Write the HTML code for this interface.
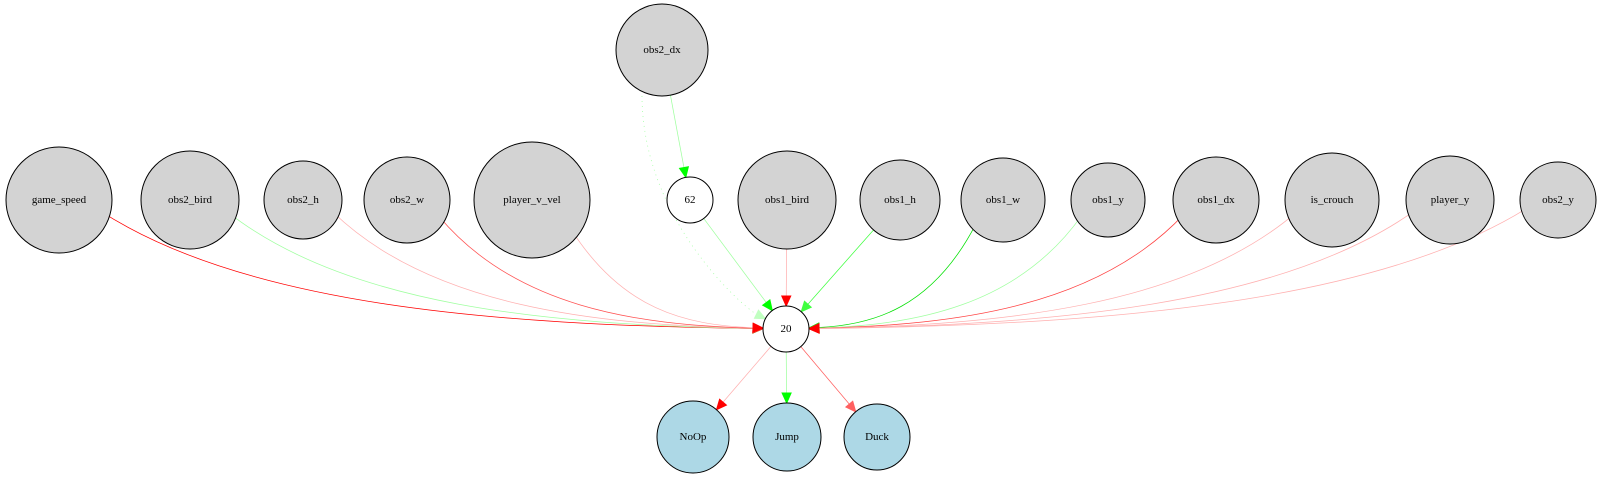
<!DOCTYPE html>
<html><head><meta charset="utf-8"><style>
html,body{margin:0;padding:0;background:#fff;}
svg{display:block;}
text{font-family:"Liberation Serif",serif;font-size:11px;text-anchor:middle;dominant-baseline:central;}
</style></head><body>
<svg id="s" width="1604" height="479" viewBox="0 0 1604 479" xmlns="http://www.w3.org/2000/svg">
<g id="edges"></g><g id="nodes"></g>
</svg>
<script>
const N={
obs2_dx:[662,50,46,'#d3d3d3'],game_speed:[59,200,53,'#d3d3d3'],obs2_bird:[190,200,49,'#d3d3d3'],
obs2_h:[303,200,39,'#d3d3d3'],obs2_w:[407,200,43,'#d3d3d3'],player_v_vel:[532,200,58,'#d3d3d3'],
'62':[690,200,23,'#fff'],obs1_bird:[787,200,49,'#d3d3d3'],obs1_h:[900,200,40,'#d3d3d3'],
obs1_w:[1003,200,42,'#d3d3d3'],obs1_y:[1108,200,37,'#d3d3d3'],obs1_dx:[1216,200,43,'#d3d3d3'],
is_crouch:[1332,200,47,'#d3d3d3'],player_y:[1450,200,44,'#d3d3d3'],obs2_y:[1558,200,38,'#d3d3d3'],
'20':[786,329,23,'#fff'],NoOp:[693,437,36,'#add8e6'],Jump:[787,437,34,'#add8e6'],Duck:[877,437,33,'#add8e6']};
const LR='#ffb0b0',R='#ff0000',LG='#a0ffa0',G='#00ee00';
const E=[['obs2_dx','62',LG,0],['obs2_dx','20',LG,1],['game_speed','20',R,0],['obs2_bird','20',LG,0],
['obs2_h','20',LR,0],['obs2_w','20','#ff5050',0],['player_v_vel','20',LR,0],['62','20',LG,0],
['obs1_bird','20',LR,0],['obs1_h','20','#40ff40',0],['obs1_w','20','#00e000',0],['obs1_y','20',LG,0],
['obs1_dx','20','#ff4040',0],['is_crouch','20',LR,0],['player_y','20',LR,0],['obs2_y','20',LR,0],
['20','NoOp',LR,0],['20','Jump',LG,0],['20','Duck','#ff6060',0]];
const ns='http://www.w3.org/2000/svg';
const eg=document.getElementById('edges'),ng=document.getElementById('nodes');
function el(t,a,p){const e=document.createElementNS(ns,t);for(const k in a)e.setAttribute(k,a[k]);p.appendChild(e);return e;}
for(const [a,b,c,dot] of E){
 const [sx,sy,sr]=N[a],[tx,ty,tr]=N[b];
 const dx=tx-sx,dy=ty-sy;
 let c1,c2,P0;
 if(dot){P0=[sx-20,sy+sr-5];c1=[sx-22,sy+170];c2=[tx-40,ty-20];}
 else if(Math.abs(dx)>150){
  const ang=Math.atan2(dy*1.2,dx);P0=[sx+sr*Math.cos(ang)*0.8,sy+sr*Math.sin(ang)*1.0];
  c1=[P0[0]+dx*0.2,P0[1]+(ty-P0[1])*0.8];c2=[tx-dx*0.4,ty-4];
 } else {
  const L=Math.hypot(dx,dy);P0=[sx+dx/L*sr,sy+dy/L*sr];
  c1=[P0[0]+dx*0.3,P0[1]+dy*0.3];c2=[P0[0]+dx*0.6,P0[1]+dy*0.6];
 }
 let ux=tx-c2[0],uy=ty-c2[1];const ul=Math.hypot(ux,uy);ux/=ul;uy/=ul;
 const tip=[tx-ux*tr,ty-uy*tr],end=[tip[0]-ux*10,tip[1]-uy*10];
 el('path',{d:`M${P0[0]},${P0[1]} C${c1[0]},${c1[1]} ${c2[0]},${c2[1]} ${end[0]},${end[1]}`,fill:'none',stroke:c,'stroke-width':0.75,'stroke-dasharray':dot?'1,4':'none'},eg);
 const px=-uy*4.5,py=ux*4.5;
 const fc=dot?'#c0ffc0':(c==LR?'#ff0000':c==LG?'#00ff00':c);
 el('polygon',{points:`${tip[0]},${tip[1]} ${end[0]+px},${end[1]+py} ${end[0]-px},${end[1]-py}`,fill:fc,stroke:fc,'stroke-width':1},eg);
}
for(const k in N){const [x,y,r,f]=N[k];
 el('circle',{cx:x,cy:y,r:r,fill:f,stroke:'#000','stroke-width':1},ng);
 el('text',{x:x,y:y},ng).textContent=k;}
</script>
</body></html>
